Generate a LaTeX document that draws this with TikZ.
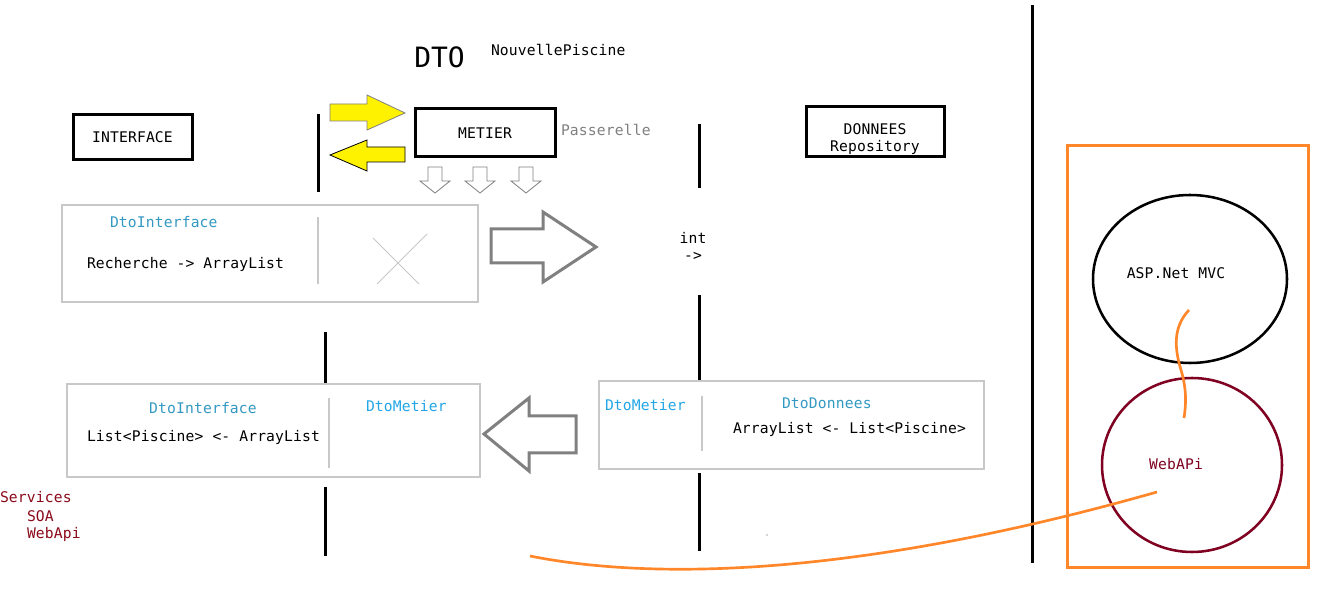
\documentclass[tikz,border=0pt]{standalone}
\usepackage{fontspec}
\usetikzlibrary{shapes.geometric}
\newfontfamily\mono[LetterSpace=1]{DejaVu Sans Mono}
\newfontfamily\monobig{DejaVu Sans Mono}
\definecolor{boxgray}{HTML}{C8C8C8}
\definecolor{arrgray}{HTML}{808080}
\definecolor{teal}{HTML}{3399C2}
\definecolor{skyblue}{HTML}{22A6E6}
\definecolor{darkred}{HTML}{8B0A1A}
\definecolor{wine}{HTML}{7F0020}
\definecolor{orng}{HTML}{FF8629}
\definecolor{yel}{HTML}{FFF200}
\begin{document}
\begin{tikzpicture}[x=0.75pt,y=-0.75pt,
  txt/.style={font=\mono\fontsize{11}{12.75}\selectfont, inner sep=0pt, outer sep=0pt},
  bbox/.style={txt, draw=black, line width=2.25pt},
  gbox/.style={draw=boxgray, line width=1.1pt, inner sep=0pt, outer sep=0pt},
  sep/.style={draw=boxgray, line width=0.8pt},
  vline/.style={line width=2.25pt, black},
  bigarrow/.style={draw=arrgray, line width=2.25pt, fill=white, line join=miter},
  smallarrow/.style={draw=arrgray, line width=0.6pt, fill=white},
  yarrow/.style={fill=yel, line width=0.6pt},
  orangeline/.style={draw=orng, line width=2pt},
]
\useasboundingbox (0,0) rectangle (1325,591);
\fill[white] (0,0) rectangle (1325,591);

% titles
\node[font=\monobig\fontsize{21}{24}\selectfont, inner sep=0pt, anchor=west] (dto) at (414,57) {DTO};
\node[txt, anchor=west] (np) at (491,50) {NouvellePiscine};

% top boxes
\node[bbox, minimum width=89.25pt, minimum height=33.75pt] (interface) at (132.5,137.5) {INTERFACE};
\node[bbox, minimum width=105pt, minimum height=36pt] (metier) at (485,133) {METIER};
\node[txt, anchor=west, text=arrgray] (pass) at (561,130) {Passerelle};
\node[bbox, minimum width=103.5pt, minimum height=37.5pt] (donnees) at (875,132) {};
\node[txt, align=center] (donneestxt) at (875,139) {DONNEES\\Repository};

% vertical lines
\draw[vline] (318,114) -- (318,192);
\draw[vline] (325,332) -- (325,384);
\draw[vline] (325,487) -- (325,556);
\draw[vline] (699,124) -- (699,188);
\draw[vline] (699,295) -- (699,381);
\draw[vline] (699,473) -- (699,551);
\draw[vline] (1032,5) -- (1032,563);

% yellow arrows
\draw[yarrow, draw=arrgray] (330,104) -- (367,104) -- (367,95) -- (405,113) -- (367,130) -- (367,121) -- (330,121) -- cycle;
\draw[yarrow, draw=black] (330,155) -- (367,140) -- (367,147) -- (405,147) -- (405,162) -- (367,162) -- (367,171) -- cycle;

% small down arrows
\foreach \cx in {435,480,526}{
  \draw[smallarrow] (\cx-7,167) -- (\cx+7,167) -- (\cx+7,181) -- (\cx+15,181) -- (\cx,193) -- (\cx-15,181) -- (\cx-7,181) -- cycle;
}

% upper gray box
\node[gbox, minimum width=312pt, minimum height=72.75pt] (box1) at (270,253.5) {};
\draw[sep] (318,217) -- (318,284);
\draw[boxgray, line width=0.6pt] (373,238) -- (419,284);
\draw[boxgray, line width=0.6pt] (427,234) -- (377,284);
\node[txt, anchor=west, text=teal] (dtoi1) at (110,222) {DtoInterface};
\node[txt, anchor=west] (rech) at (87,264) {Recherche -> ArrayList};

% big right arrow
\draw[bigarrow] (491,229) -- (543,229) -- (543,212) -- (596,247) -- (543,282) -- (543,263) -- (491,263) -- cycle;
\node[txt, align=center] (int) at (693,246) {int\\ ->};

% lower left box
\node[gbox, minimum width=309.75pt, minimum height=69.75pt] (box2) at (273.5,430.5) {};
\draw[sep] (329,398) -- (329,468);
\node[txt, text=teal] (dtoi2) at (203,408) {DtoInterface};
\node[txt, anchor=west, text=skyblue] (dtom1) at (366,406) {DtoMetier};
\node[txt, anchor=west] (list1) at (87,437) {List<Piscine> <- ArrayList};

% big left arrow
\draw[bigarrow] (484,434) -- (529,398) -- (529,416) -- (576,416) -- (576,453) -- (529,453) -- (529,471) -- cycle;

% lower right box
\node[gbox, minimum width=288.75pt, minimum height=66pt] (box3) at (791.5,425) {};
\draw[sep] (702,396) -- (702,451);
\node[txt, anchor=west, text=skyblue] (dtom2) at (605,405) {DtoMetier};
\node[txt, anchor=west, text=teal] (dtod) at (782,403) {DtoDonnees};
\node[txt, anchor=west] (list2) at (733,429) {ArrayList <- List<Piscine>};

\fill[boxgray] (767,535) circle (0.9pt);

% services
\node[txt, anchor=west, text=darkred] (serv) at (0,497) {Services};
\node[txt, anchor=west, text=darkred] (soa) at (27,516) {SOA};
\node[txt, anchor=west, text=darkred] (webapi) at (27,534) {WebApi};

% right panel
\node[draw=orng, line width=2.25pt, minimum width=180.75pt, minimum height=315.75pt, inner sep=0pt] (panel) at (1187.5,356.5) {};
\node[draw=black, ellipse, line width=1.9pt, minimum width=145.5pt, minimum height=126pt, inner sep=0pt] (mvc) at (1190,279) {};
\node[txt] (mvctxt) at (1176,273) {ASP.Net MVC};
\node[draw=wine, ellipse, line width=1.9pt, minimum width=135pt, minimum height=130.5pt, inner sep=0pt] (wapi) at (1192,465) {};
\node[txt, text=wine] (wapitxt) at (1176,464) {WebAPi};

% orange curves
\coordinate (sq1) at (1189,310);
\coordinate (sq2) at (1184,418);
\draw[orangeline] (sq1) .. controls (1172,328) and (1175,350) .. (1181,370) .. controls (1187,390) and (1186,405) .. (sq2);
\coordinate (cstart) at (530,556);
\coordinate (cend) at (1157,492);
\draw[orangeline] (cstart) .. controls (640,578) and (840,582) .. (cend);
\end{tikzpicture}
\end{document}
